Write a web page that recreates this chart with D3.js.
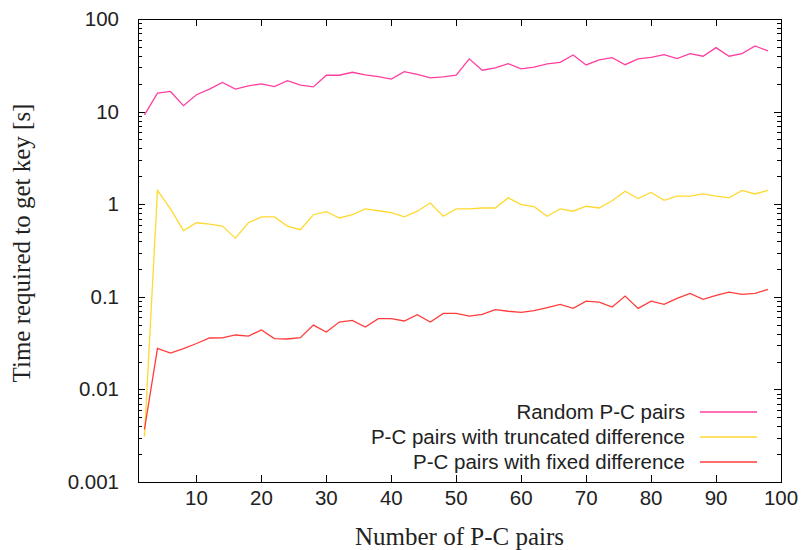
<!DOCTYPE html>
<html lang="en">
<head>
    <meta charset="UTF-8">
    <title>Time required to get key</title>
    <style>
        body { margin: 0; background: white; }
        .tick-label { font-family: 'Liberation Sans', Arial, sans-serif; font-size: 20.5px; fill: #222; }
        .axis-title { font-family: 'Liberation Serif', 'Times New Roman', serif; font-size: 25px; fill: #222; }
        .legend-text { font-family: 'Liberation Sans', Arial, sans-serif; font-size: 20.5px; fill: #222; }
    </style>
</head>
<body>
    <div class="fig"></div>

    <script src="https://d3js.org/d3.v7.min.js"></script>
    <script>
        // Data
        const pairs = [2, 4, 6, 8, 10, 12, 14, 16, 18, 20, 22, 24, 26, 28, 30, 32, 34, 36, 38, 40,
            42, 44, 46, 48, 50, 52, 54, 56, 58, 60, 62, 64, 66, 68, 70, 72, 74, 76, 78, 80,
            82, 84, 86, 88, 90, 92, 94, 96, 98];

        const randomPairs = [9.2, 15.8, 16.5, 11.6, 15.2, 17.5, 20.6, 17.5, 19.0, 19.9,
            18.6, 21.6, 19.3, 18.5, 24.7, 24.7, 26.6, 24.9, 23.9, 22.4,
            27.0, 25.3, 23.1, 23.7, 24.7, 37.1, 28.0, 29.7, 33.0, 28.9,
            30.2, 32.7, 34.0, 40.9, 31.9, 36.1, 38.3, 32.1, 37.1, 38.6,
            41.2, 37.4, 42.3, 39.6, 49.1, 39.6, 42.3, 51.2, 45.2];

        const truncatedPairs = [0.0031, 1.41, 0.89, 0.52, 0.63, 0.61, 0.58, 0.43, 0.63, 0.73,
            0.73, 0.58, 0.53, 0.77, 0.83, 0.71, 0.77, 0.89, 0.85, 0.81,
            0.73, 0.84, 1.03, 0.74, 0.89, 0.89, 0.91, 0.91, 1.17, 0.99,
            0.94, 0.74, 0.89, 0.84, 0.95, 0.91, 1.09, 1.38, 1.15, 1.34,
            1.10, 1.22, 1.22, 1.29, 1.22, 1.17, 1.41, 1.29, 1.41];

        const fixedPairs = [0.0037, 0.0278, 0.0247, 0.0276, 0.0313, 0.0359, 0.036, 0.0387, 0.0377, 0.0438,
            0.0354, 0.035, 0.0362, 0.0495, 0.0417, 0.0534, 0.0557, 0.0472, 0.058, 0.058,
            0.0548, 0.0641, 0.0534, 0.0662, 0.0662, 0.062, 0.0646, 0.0726, 0.0698, 0.068,
            0.0708, 0.0763, 0.0828, 0.075, 0.0899, 0.0878, 0.0775, 0.1018, 0.075, 0.0899,
            0.0828, 0.0962, 0.109, 0.0938, 0.1035, 0.1125, 0.106, 0.109, 0.120];

        const seriesNames = ["Random P-C pairs", "P-C pairs with truncated difference", "P-C pairs with fixed difference"];
        const seriesColors = ["#ff3fa0", "#ffd932", "#ff3c3c"];
        const seriesValues = [randomPairs, truncatedPairs, fixedPairs];

        const xTicks = [10, 20, 30, 40, 50, 60, 70, 80, 90, 100];
        const yTicks = [0.001, 0.01, 0.1, 1, 10, 100];
        const yTickLabels = ["0.001", "0.01", "0.1", "1", "10", "100"];

        // Layout
        const svgWidth = 802;
        const svgHeight = 550;
        const plot = { left: 138, right: 781, top: 19, bottom: 482 };
        const majorLen = 7;
        const minorLen = 4;

        const svg = d3.select(".fig").append("svg")
            .attr("width", svgWidth)
            .attr("height", svgHeight);

        const x = d3.scaleLinear().domain([1, 100]).range([plot.left, plot.right]);
        const y = d3.scaleLog().domain([0.001, 100]).range([plot.bottom, plot.top]);

        // Ticks (inward, mirrored like gnuplot)
        const tickG = svg.append("g").attr("stroke", "#000").attr("stroke-width", 1);

        xTicks.forEach(t => {
            const px = Math.round(x(t)) + 0.5;
            tickG.append("line").attr("x1", px).attr("x2", px).attr("y1", plot.bottom).attr("y2", plot.bottom - majorLen);
            tickG.append("line").attr("x1", px).attr("x2", px).attr("y1", plot.top).attr("y2", plot.top + majorLen);
        });

        const minorTicks = y.ticks(50).filter(t => !yTicks.includes(t));
        minorTicks.forEach(t => {
            const py = Math.round(y(t)) + 0.5;
            tickG.append("line").attr("x1", plot.left).attr("x2", plot.left + minorLen).attr("y1", py).attr("y2", py);
            tickG.append("line").attr("x1", plot.right).attr("x2", plot.right - minorLen).attr("y1", py).attr("y2", py);
        });
        yTicks.forEach(t => {
            const py = Math.round(y(t)) + 0.5;
            tickG.append("line").attr("x1", plot.left).attr("x2", plot.left + majorLen).attr("y1", py).attr("y2", py);
            tickG.append("line").attr("x1", plot.right).attr("x2", plot.right - majorLen).attr("y1", py).attr("y2", py);
        });

        // Tick labels
        svg.append("g").selectAll("text")
            .data(xTicks)
            .enter()
            .append("text")
            .attr("class", "tick-label")
            .attr("x", d => x(d))
            .attr("y", 505)
            .attr("text-anchor", "middle")
            .text(d => d);

        svg.append("g").selectAll("text")
            .data(yTicks)
            .enter()
            .append("text")
            .attr("class", "tick-label")
            .attr("x", 119)
            .attr("y", d => y(d) + 7)
            .attr("text-anchor", "end")
            .text((d, i) => yTickLabels[i]);

        // Axis titles
        svg.append("text")
            .attr("class", "axis-title")
            .attr("x", (plot.left + plot.right) / 2)
            .attr("y", 545)
            .attr("text-anchor", "middle")
            .text("Number of P-C pairs");

        svg.append("text")
            .attr("class", "axis-title")
            .attr("transform", "translate(30, 243) rotate(-90)")
            .attr("text-anchor", "middle")
            .text("Time required to get key [s]");

        // Lines
        const line = d3.line()
            .x((d, i) => x(pairs[i]))
            .y(d => y(d));

        seriesValues.forEach((vals, k) => {
            svg.append("path")
                .datum(vals)
                .attr("d", line)
                .attr("fill", "none")
                .attr("stroke", seriesColors[k])
                .attr("stroke-width", 1.3);
        });

        // Legend
        const legendY = [412, 437, 462];
        seriesNames.forEach((name, k) => {
            svg.append("text")
                .attr("class", "legend-text")
                .attr("x", 685)
                .attr("y", legendY[k] + 7)
                .attr("text-anchor", "end")
                .text(name);
            svg.append("line")
                .attr("x1", 700).attr("x2", 757)
                .attr("y1", legendY[k]).attr("y2", legendY[k])
                .attr("stroke", seriesColors[k])
                .attr("stroke-width", 1.3);
        });

        // Frame
        svg.append("rect")
            .attr("x", plot.left + 0.5)
            .attr("y", plot.top + 0.5)
            .attr("width", plot.right - plot.left)
            .attr("height", plot.bottom - plot.top)
            .attr("fill", "none")
            .attr("stroke", "#000")
            .attr("stroke-width", 1);
    </script>
</body>
</html>
